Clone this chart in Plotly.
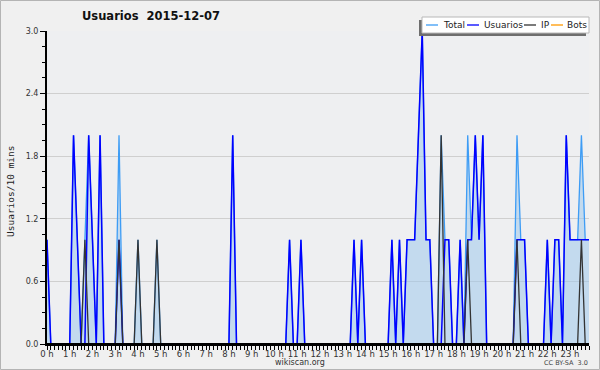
import plotly.graph_objects as go

# ---------------- data (10-minute steps, 144 points) ----------------
hour_labels = ["0 h", "1 h", "2 h", "3 h", "4 h", "5 h", "6 h", "7 h", "8 h", "9 h",
               "10 h", "11 h", "12 h", "13 h", "14 h", "15 h", "16 h", "17 h", "18 h",
               "19 h", "20 h", "21 h", "22 h", "23 h"]
hour_ticks = list(range(24))

series_names = ["Total", "Usuarios", "IP", "Bots"]

usuarios = [
    1, 0, 0, 0, 0, 0, 0, 2, 1, 0, 0, 2,
    1, 0, 2, 0, 0, 0, 0, 1, 0, 0, 0, 0,
    0, 0, 0, 0, 0, 0, 0, 0, 0, 0, 0, 0,
    0, 0, 0, 0, 0, 0, 0, 0, 0, 0, 0, 0,
    0, 2, 0, 0, 0, 0, 0, 0, 0, 0, 0, 0,
    0, 0, 0, 0, 1, 0, 0, 1, 0, 0, 0, 0,
    0, 0, 0, 0, 0, 0, 0, 0, 0, 1, 0, 1,
    0, 0, 0, 0, 0, 0, 0, 1, 0, 1, 0, 1,
    1, 1, 2, 3, 1, 1, 0, 0, 0, 1, 1, 0,
    0, 1, 0, 1, 1, 2, 1, 2, 0, 0, 0, 0,
    0, 0, 0, 0, 1, 1, 1, 0, 0, 0, 0, 0,
    1, 0, 1, 1, 0, 2, 1, 1, 1, 1, 1, 1,
]
ip = [
    0, 0, 0, 0, 0, 0, 0, 0, 0, 0, 1, 0,
    0, 0, 0, 0, 0, 0, 0, 1, 0, 0, 0, 0,
    1, 0, 0, 0, 0, 1, 0, 0, 0, 0, 0, 0,
    0, 0, 0, 0, 0, 0, 0, 0, 0, 0, 0, 0,
    0, 0, 0, 0, 0, 0, 0, 0, 0, 0, 0, 0,
    0, 0, 0, 0, 0, 0, 0, 0, 0, 0, 0, 0,
    0, 0, 0, 0, 0, 0, 0, 0, 0, 0, 0, 0,
    0, 0, 0, 0, 0, 0, 0, 0, 0, 0, 0, 0,
    0, 0, 0, 0, 0, 0, 0, 0, 2, 0, 0, 0,
    0, 0, 0, 1, 0, 0, 0, 0, 0, 0, 0, 0,
    0, 0, 0, 0, 1, 0, 0, 0, 0, 0, 0, 0,
    0, 0, 0, 0, 0, 0, 0, 0, 0, 1, 0, 0,
]
total = [
    1, 0, 0, 0, 0, 0, 0, 2, 1, 0, 1, 2,
    1, 0, 2, 0, 0, 0, 0, 2, 0, 0, 0, 0,
    1, 0, 0, 0, 0, 1, 0, 0, 0, 0, 0, 0,
    0, 0, 0, 0, 0, 0, 0, 0, 0, 0, 0, 0,
    0, 2, 0, 0, 0, 0, 0, 0, 0, 0, 0, 0,
    0, 0, 0, 0, 1, 0, 0, 1, 0, 0, 0, 0,
    0, 0, 0, 0, 0, 0, 0, 0, 0, 1, 0, 1,
    0, 0, 0, 0, 0, 0, 0, 1, 0, 1, 0, 1,
    1, 1, 2, 3, 1, 1, 0, 0, 2, 1, 1, 0,
    0, 1, 0, 2, 1, 2, 1, 2, 0, 0, 0, 0,
    0, 0, 0, 0, 2, 1, 1, 0, 0, 0, 0, 0,
    1, 0, 1, 1, 0, 2, 1, 1, 1, 2, 1, 1,
]
bots = [0] * 144

y_ticks = [0.0, 0.6, 1.2, 1.8, 2.4, 3.0]

# x positions: hour of day for each 10-minute slot
x = [i / 6 for i in range(len(total))]

# ---------------- styling ----------------
FONT = "DejaVu Sans"
W, H = 600, 370
ML, MR, MT, MB = 47, 11, 31, 26
PW, PH = W - ML - MR, H - MT - MB
colors = {"Total": "#3d9cf5", "Usuarios": "#0000ff", "IP": "#333333", "Bots": "#ff9900"}


def px(xp):
    return (xp - ML) / PW


def py(yp):
    return (H - MB - yp) / PH


fig = go.Figure()
fig.add_trace(go.Scatter(x=x, y=total, name="Total", mode="lines",
                         line=dict(color=colors["Total"], width=1.3),
                         fill="tozeroy", fillcolor="rgba(160,200,235,0.55)"))
fig.add_trace(go.Scatter(x=x, y=usuarios, name="Usuarios", mode="lines",
                         line=dict(color=colors["Usuarios"], width=1.5)))
fig.add_trace(go.Scatter(x=x, y=ip, name="IP", mode="lines",
                         line=dict(color=colors["IP"], width=1.3)))
fig.add_trace(go.Scatter(x=x, y=bots, name="Bots", mode="lines",
                         line=dict(color=colors["Bots"], width=1.3)))

shapes = []
annotations = []

# outer frame
shapes.append(dict(type="rect", xref="paper", yref="paper",
                   x0=px(0.5), x1=px(W - 0.5), y0=py(0.5), y1=py(H - 0.5),
                   line=dict(color="#b4b4b4", width=1), layer="below"))
# baseline drawn over the series (axis line covering values at zero)
shapes.append(dict(type="line", xref="paper", yref="paper",
                   x0=px(ML - 1), x1=1, y0=0, y1=0,
                   line=dict(color="#000", width=2), layer="above"))

# manual legend (box + shadow + samples + texts)
lx0, lx1, ly0, ly1 = 422, 589, 17, 33
shapes.append(dict(type="rect", xref="paper", yref="paper",
                   x0=px(lx0 - 3), x1=px(lx1 - 3), y0=py(ly0 + 3), y1=py(ly1 + 3),
                   fillcolor="#6e6e6e", line=dict(width=0)))
shapes.append(dict(type="rect", xref="paper", yref="paper",
                   x0=px(lx0), x1=px(lx1), y0=py(ly0), y1=py(ly1),
                   fillcolor="#ffffff", line=dict(color="#b8b8b8", width=1)))
legend_sample_x = [426, 467, 524, 551]
legend_text_x = [441, 482, 539, 565]
for name, sx, tx in zip(series_names, legend_sample_x, legend_text_x):
    shapes.append(dict(type="line", xref="paper", yref="paper",
                       x0=px(sx), x1=px(sx + 12), y0=py(25), y1=py(25),
                       line=dict(color=colors[name], width=1.3)))
    annotations.append(dict(text=name, xref="paper", yref="paper",
                            x=px(tx), y=py(25.5), xanchor="left", yanchor="middle",
                            showarrow=False, font=dict(family=FONT, size=9, color="#222")))

# title
annotations.append(dict(text="<b>Usuarios&nbsp;&nbsp;2015-12-07</b>", xref="paper", yref="paper",
                        x=px(151), y=py(16), xanchor="center", yanchor="middle",
                        showarrow=False, font=dict(family=FONT, size=11.5, color="#111")))
# y axis title
annotations.append(dict(text="Usuarios/10 mins", xref="paper", yref="paper",
                        x=px(10), y=py(191), xanchor="center", yanchor="middle", textangle=-90,
                        showarrow=False, font=dict(family="DejaVu Sans Mono", size=9.5, color="#222")))
# footer
annotations.append(dict(text="wikiscan.org", xref="paper", yref="paper",
                        x=px(300), y=py(362), xanchor="center", yanchor="middle",
                        showarrow=False, font=dict(family=FONT, size=8, color="#333")))
annotations.append(dict(text="CC BY-SA  3.0", xref="paper", yref="paper",
                        x=px(590), y=py(363), xanchor="right", yanchor="middle",
                        showarrow=False, font=dict(family=FONT, size=6.5, color="#444")))

fig.update_layout(
    width=W, height=H,
    margin=dict(l=ML, r=MR, t=MT, b=MB, pad=0),
    paper_bgcolor="#f0f0f0", plot_bgcolor="#eeeff1",
    showlegend=False,
    shapes=shapes, annotations=annotations,
    font=dict(family=FONT, size=8.5, color="#333"),
)
fig.update_xaxes(
    range=[0, (len(total) - 1) / 6], showgrid=False, zeroline=False,
    tickmode="array", tickvals=hour_ticks, ticktext=hour_labels,
    ticks="outside", ticklen=4, tickwidth=1, tickcolor="#000",
    ticklabelstandoff=-3,
    showline=True, linecolor="#000", linewidth=2,
    tickfont=dict(family=FONT, size=8.5, color="#333"),
    minor=dict(dtick=1 / 6, tick0=0, ticks="outside", ticklen=4, tickwidth=1, tickcolor="#000", showgrid=False),
)
fig.update_yaxes(
    range=[0, 3.0], tickmode="array", tickvals=y_ticks, ticktext=[f"{v:.1f}" for v in y_ticks],
    showgrid=True, gridcolor="#cfcfcf", gridwidth=1, zeroline=False,
    ticks="outside", ticklen=5, tickwidth=1, tickcolor="#000",
    showline=True, linecolor="#000", linewidth=2,
    tickfont=dict(family=FONT, size=8, color="#333"),
    minor=dict(dtick=0.15, tick0=0, ticks="outside", ticklen=3, tickwidth=1, tickcolor="#000", showgrid=False),
)

fig.write_html("out.html")
